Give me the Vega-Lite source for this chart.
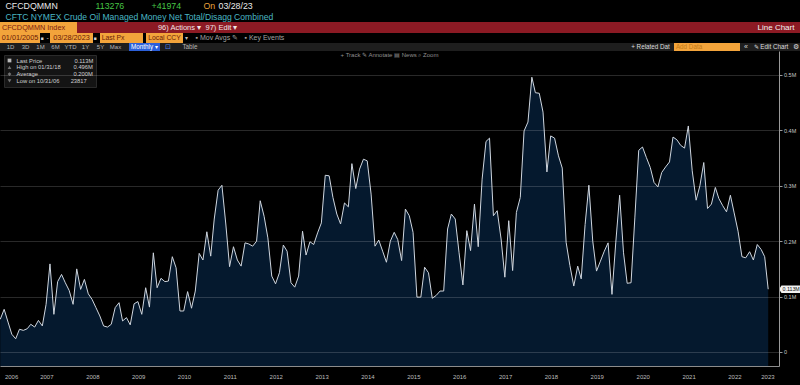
{
  "$schema": "https://vega.github.io/schema/vega-lite/v6.json",
  "background": "#000000",
  "padding": 0,
  "autosize": {"type": "pad"},
  "spacing": 0,
  "bounds": "full",
  "resolve": {"legend": {"color": "independent", "shape": "independent"}},
  "config": {
    "view": {"stroke": null},
    "concat": {"spacing": 0},
    "font": "Liberation Sans",
    "text": {"font": "Liberation Sans"}
  },
  "datasets": {
    "cot": [
      {"d":"2006-06-30","v":0.059},{"d":"2006-07-31","v":0.077},{"d":"2006-08-31","v":0.054},{"d":"2006-09-30","v":0.032},{"d":"2006-10-31","v":0.023817},{"d":"2006-11-30","v":0.041},{"d":"2006-12-31","v":0.039},
      {"d":"2007-01-31","v":0.042},{"d":"2007-02-28","v":0.050},{"d":"2007-03-31","v":0.045},{"d":"2007-04-30","v":0.057},{"d":"2007-05-31","v":0.047},{"d":"2007-06-30","v":0.086},{"d":"2007-07-31","v":0.159},{"d":"2007-08-31","v":0.068},{"d":"2007-09-30","v":0.127},{"d":"2007-10-31","v":0.140},{"d":"2007-11-30","v":0.125},{"d":"2007-12-31","v":0.111},
      {"d":"2008-01-31","v":0.086},{"d":"2008-02-29","v":0.150},{"d":"2008-03-31","v":0.113},{"d":"2008-04-30","v":0.131},{"d":"2008-05-31","v":0.105},{"d":"2008-06-30","v":0.095},{"d":"2008-07-31","v":0.080},{"d":"2008-08-31","v":0.065},{"d":"2008-09-30","v":0.047},{"d":"2008-10-31","v":0.045},{"d":"2008-11-30","v":0.050},{"d":"2008-12-31","v":0.080},
      {"d":"2009-01-31","v":0.089},{"d":"2009-02-28","v":0.056},{"d":"2009-03-31","v":0.062},{"d":"2009-04-30","v":0.049},{"d":"2009-05-31","v":0.087},{"d":"2009-06-30","v":0.091},{"d":"2009-07-31","v":0.068},{"d":"2009-08-31","v":0.116},{"d":"2009-09-30","v":0.081},{"d":"2009-10-31","v":0.179},{"d":"2009-11-30","v":0.116},{"d":"2009-12-31","v":0.133},
      {"d":"2010-01-31","v":0.127},{"d":"2010-02-28","v":0.128},{"d":"2010-03-31","v":0.172},{"d":"2010-04-30","v":0.152},{"d":"2010-05-31","v":0.074},{"d":"2010-06-30","v":0.074},{"d":"2010-07-31","v":0.109},{"d":"2010-08-31","v":0.079},{"d":"2010-09-30","v":0.110},{"d":"2010-10-31","v":0.178},{"d":"2010-11-30","v":0.166},{"d":"2010-12-31","v":0.217},
      {"d":"2011-01-31","v":0.173},{"d":"2011-02-28","v":0.240},{"d":"2011-03-31","v":0.292},{"d":"2011-04-30","v":0.301},{"d":"2011-05-31","v":0.231},{"d":"2011-06-30","v":0.154},{"d":"2011-07-31","v":0.190},{"d":"2011-08-31","v":0.166},{"d":"2011-09-30","v":0.155},{"d":"2011-10-31","v":0.197},{"d":"2011-11-30","v":0.195},{"d":"2011-12-31","v":0.191},
      {"d":"2012-01-31","v":0.200},{"d":"2012-02-29","v":0.273},{"d":"2012-03-31","v":0.245},{"d":"2012-04-30","v":0.206},{"d":"2012-05-31","v":0.137},{"d":"2012-06-30","v":0.123},{"d":"2012-07-31","v":0.143},{"d":"2012-08-31","v":0.193},{"d":"2012-09-30","v":0.182},{"d":"2012-10-31","v":0.125},{"d":"2012-11-30","v":0.117},{"d":"2012-12-31","v":0.137},
      {"d":"2013-01-31","v":0.218},{"d":"2013-02-28","v":0.175},{"d":"2013-03-31","v":0.199},{"d":"2013-04-30","v":0.194},{"d":"2013-05-31","v":0.215},{"d":"2013-06-30","v":0.233},{"d":"2013-07-31","v":0.319},{"d":"2013-08-31","v":0.318},{"d":"2013-09-30","v":0.279},{"d":"2013-10-31","v":0.249},{"d":"2013-11-30","v":0.231},{"d":"2013-12-31","v":0.269},
      {"d":"2014-01-31","v":0.262},{"d":"2014-02-28","v":0.340},{"d":"2014-03-31","v":0.295},{"d":"2014-04-30","v":0.330},{"d":"2014-05-31","v":0.348},{"d":"2014-06-30","v":0.345},{"d":"2014-07-31","v":0.285},{"d":"2014-08-31","v":0.191},{"d":"2014-09-30","v":0.202},{"d":"2014-10-31","v":0.182},{"d":"2014-11-30","v":0.162},{"d":"2014-12-31","v":0.200},
      {"d":"2015-01-31","v":0.216},{"d":"2015-02-28","v":0.203},{"d":"2015-03-31","v":0.165},{"d":"2015-04-30","v":0.258},{"d":"2015-05-31","v":0.246},{"d":"2015-06-30","v":0.216},{"d":"2015-07-31","v":0.099},{"d":"2015-08-31","v":0.099},{"d":"2015-09-30","v":0.153},{"d":"2015-10-31","v":0.143},{"d":"2015-11-30","v":0.097},{"d":"2015-12-31","v":0.102},
      {"d":"2016-01-31","v":0.110},{"d":"2016-02-29","v":0.110},{"d":"2016-03-31","v":0.222},{"d":"2016-04-30","v":0.249},{"d":"2016-05-31","v":0.240},{"d":"2016-06-30","v":0.180},{"d":"2016-07-31","v":0.121},{"d":"2016-08-31","v":0.219},{"d":"2016-09-30","v":0.183},{"d":"2016-10-31","v":0.267},{"d":"2016-11-30","v":0.190},{"d":"2016-12-31","v":0.312},
      {"d":"2017-01-31","v":0.380},{"d":"2017-02-28","v":0.386},{"d":"2017-03-31","v":0.246},{"d":"2017-04-30","v":0.255},{"d":"2017-05-31","v":0.204},{"d":"2017-06-30","v":0.135},{"d":"2017-07-31","v":0.237},{"d":"2017-08-31","v":0.147},{"d":"2017-09-30","v":0.252},{"d":"2017-10-31","v":0.279},{"d":"2017-11-30","v":0.399},{"d":"2017-12-31","v":0.415},
      {"d":"2018-01-31","v":0.496},{"d":"2018-02-28","v":0.468},{"d":"2018-03-31","v":0.467},{"d":"2018-04-30","v":0.433},{"d":"2018-05-31","v":0.325},{"d":"2018-06-30","v":0.390},{"d":"2018-07-31","v":0.386},{"d":"2018-08-31","v":0.354},{"d":"2018-09-30","v":0.332},{"d":"2018-10-31","v":0.198},{"d":"2018-11-30","v":0.156},{"d":"2018-12-31","v":0.119},
      {"d":"2019-01-31","v":0.155},{"d":"2019-02-28","v":0.132},{"d":"2019-03-31","v":0.230},{"d":"2019-04-30","v":0.301},{"d":"2019-05-31","v":0.200},{"d":"2019-06-30","v":0.146},{"d":"2019-07-31","v":0.164},{"d":"2019-08-31","v":0.182},{"d":"2019-09-30","v":0.197},{"d":"2019-10-31","v":0.104},{"d":"2019-11-30","v":0.197},{"d":"2019-12-31","v":0.283},
      {"d":"2020-01-31","v":0.179},{"d":"2020-02-29","v":0.124},{"d":"2020-03-31","v":0.125},{"d":"2020-04-30","v":0.242},{"d":"2020-05-31","v":0.364},{"d":"2020-06-30","v":0.370},{"d":"2020-07-31","v":0.351},{"d":"2020-08-31","v":0.333},{"d":"2020-09-30","v":0.306},{"d":"2020-10-31","v":0.298},{"d":"2020-11-30","v":0.324},{"d":"2020-12-31","v":0.334},
      {"d":"2021-01-31","v":0.343},{"d":"2021-02-28","v":0.388},{"d":"2021-03-31","v":0.383},{"d":"2021-04-30","v":0.373},{"d":"2021-05-31","v":0.368},{"d":"2021-06-30","v":0.408},{"d":"2021-07-31","v":0.327},{"d":"2021-08-31","v":0.274},{"d":"2021-09-30","v":0.300},{"d":"2021-10-31","v":0.342},{"d":"2021-11-30","v":0.259},{"d":"2021-12-31","v":0.267},
      {"d":"2022-01-31","v":0.297},{"d":"2022-02-28","v":0.277},{"d":"2022-03-31","v":0.264},{"d":"2022-04-30","v":0.253},{"d":"2022-05-31","v":0.283},{"d":"2022-06-30","v":0.251},{"d":"2022-07-31","v":0.218},{"d":"2022-08-31","v":0.172},{"d":"2022-09-30","v":0.170},{"d":"2022-10-31","v":0.181},{"d":"2022-11-30","v":0.166},{"d":"2022-12-31","v":0.194},
      {"d":"2023-01-31","v":0.185},{"d":"2023-02-28","v":0.172},{"d":"2023-03-28","v":0.113276}
    ],
    "stats": [
      {"entry": "Last Price\u00a0\u00a0\u00a0\u00a0\u00a0\u00a0\u00a0\u00a0\u00a0\u00a0\u00a0\u00a0\u00a0\u00a0\u00a0\u00a0\u00a0\u00a0\u00a0\u00a00.113M"},
      {"entry": "High on 01/31/18\u00a0\u00a0\u00a0\u00a0\u00a0\u00a0\u00a0\u00a00.496M"},
      {"entry": "Average\u00a0\u00a0\u00a0\u00a0\u00a0\u00a0\u00a0\u00a0\u00a0\u00a0\u00a0\u00a0\u00a0\u00a0\u00a0\u00a0\u00a0\u00a0\u00a0\u00a0\u00a0\u00a00.200M"},
      {"entry": "Low on 10/31/06\u00a0\u00a0\u00a0\u00a0\u00a0\u00a0\u00a023817"}
    ]
  },
  "vconcat": [
    {
      "spacing": 0, "bounds": "flush",
      "hconcat": [
        {"width": 5, "height": 12, "data": {"values": []}, "mark": "text"},
        {"width": 1, "height": 12, "data": {"values": [{"t": "CFCDQMMN"}]}, "mark": {"type": "text", "align": "left", "baseline": "middle", "fontSize": 8.8, "color": "#e8e8e8"}, "encoding": {"text": {"field": "t"}}},
        {"width": 89, "height": 12, "data": {"values": []}, "mark": "text"},
        {"width": 1, "height": 12, "data": {"values": [{"t": "113276"}]}, "mark": {"type": "text", "align": "left", "baseline": "middle", "fontSize": 8.8, "color": "#46c646"}, "encoding": {"text": {"field": "t"}}},
        {"width": 55, "height": 12, "data": {"values": []}, "mark": "text"},
        {"width": 1, "height": 12, "data": {"values": [{"t": "+41974"}]}, "mark": {"type": "text", "align": "left", "baseline": "middle", "fontSize": 8.8, "color": "#46c646"}, "encoding": {"text": {"field": "t"}}},
        {"width": 51, "height": 12, "data": {"values": []}, "mark": "text"},
        {"width": 1, "height": 12, "data": {"values": [{"t": "On"}]}, "mark": {"type": "text", "align": "left", "baseline": "middle", "fontSize": 8.8, "color": "#e9a23b"}, "encoding": {"text": {"field": "t"}}},
        {"width": 14, "height": 12, "data": {"values": []}, "mark": "text"},
        {"width": 1, "height": 12, "data": {"values": [{"t": "03/28/23"}]}, "mark": {"type": "text", "align": "left", "baseline": "middle", "fontSize": 8.8, "color": "#e8e8e8"}, "encoding": {"text": {"field": "t"}}},
        {"width": 581, "height": 12, "data": {"values": []}, "mark": "text"}
      ]
    },
    {
      "spacing": 0, "bounds": "flush",
      "hconcat": [
        {"width": 5, "height": 9, "data": {"values": []}, "mark": "text"},
        {"width": 1, "height": 9, "data": {"values": [{"t": "CFTC NYMEX Crude Oil Managed Money Net Total/Disagg Combined"}]}, "mark": {"type": "text", "align": "left", "baseline": "middle", "fontSize": 8.6, "color": "#4ab6c3"}, "encoding": {"text": {"field": "t"}}},
        {"width": 794, "height": 9, "data": {"values": []}, "mark": "text"}
      ]
    },
    {
      "spacing": 0, "bounds": "flush",
      "hconcat": [
        {"width": 67, "height": 11, "view": {"fill": "#f3a43b"}, "data": {"values": [{"t": "CFCDQMMN Index"}]}, "mark": {"type": "text", "baseline": "middle", "fontSize": 7.3, "color": "#7b1a10"}, "encoding": {"text": {"field": "t"}}},
        {"width": 10, "height": 11, "view": {"fill": "#f3a43b"}, "data": {"values": []}, "mark": "text"},
        {"width": 80, "height": 11, "view": {"fill": "#8c1a24"}, "data": {"values": []}, "mark": "text"},
        {"width": 45, "height": 11, "view": {"fill": "#8c1a24"}, "data": {"values": [{"t": "96) Actions \u25be"}]}, "mark": {"type": "text", "baseline": "middle", "fontSize": 7.5, "color": "#f2e4e4"}, "encoding": {"text": {"field": "t"}}},
        {"width": 3, "height": 11, "view": {"fill": "#8c1a24"}, "data": {"values": []}, "mark": "text"},
        {"width": 33, "height": 11, "view": {"fill": "#8c1a24"}, "data": {"values": [{"t": "97) Edit \u25be"}]}, "mark": {"type": "text", "baseline": "middle", "fontSize": 7.5, "color": "#f2e4e4"}, "encoding": {"text": {"field": "t"}}},
        {"width": 517, "height": 11, "view": {"fill": "#8c1a24"}, "data": {"values": []}, "mark": "text"},
        {"width": 42, "height": 11, "view": {"fill": "#8c1a24"}, "data": {"values": [{"t": "Line Chart"}]}, "mark": {"type": "text", "baseline": "middle", "fontSize": 8, "color": "#f2f2f2"}, "encoding": {"text": {"field": "t"}}},
        {"width": 3, "height": 11, "view": {"fill": "#8c1a24"}, "data": {"values": []}, "mark": "text"}
      ]
    },
    {
      "spacing": 0, "bounds": "flush",
      "hconcat": [
        {"width": 40, "height": 10, "view": {"fill": "#f3a43b"}, "data": {"values": [{"t": "01/01/2005"}]}, "mark": {"type": "text", "baseline": "middle", "fontSize": 7.3, "color": "#6a1a08"}, "encoding": {"text": {"field": "t"}}},
        {"width": 4, "height": 10, "data": {"values": [{"t": "\u25a0"}]}, "mark": {"type": "text", "baseline": "middle", "fontSize": 5, "color": "#cfcfcf"}, "encoding": {"text": {"field": "t"}}},
        {"width": 2, "height": 10, "data": {"values": []}, "mark": "text"},
        {"width": 1, "height": 10, "data": {"values": [{"t": "-"}]}, "mark": {"type": "text", "align": "left", "baseline": "middle", "fontSize": 7, "color": "#bdbdbd"}, "encoding": {"text": {"field": "t"}}},
        {"width": 3, "height": 10, "data": {"values": []}, "mark": "text"},
        {"width": 43, "height": 10, "view": {"fill": "#f3a43b"}, "data": {"values": [{"t": "03/28/2023"}]}, "mark": {"type": "text", "baseline": "middle", "fontSize": 7.3, "color": "#6a1a08"}, "encoding": {"text": {"field": "t"}}},
        {"width": 4, "height": 10, "data": {"values": [{"t": "\u25a0"}]}, "mark": {"type": "text", "baseline": "middle", "fontSize": 5, "color": "#cfcfcf"}, "encoding": {"text": {"field": "t"}}},
        {"width": 3, "height": 10, "data": {"values": []}, "mark": "text"},
        {"width": 26, "height": 10, "view": {"fill": "#f3a43b"}, "data": {"values": [{"t": "Last Px"}]}, "mark": {"type": "text", "baseline": "middle", "fontSize": 6.8, "color": "#6a1a08"}, "encoding": {"text": {"field": "t"}}},
        {"width": 17, "height": 10, "view": {"fill": "#f3a43b"}, "data": {"values": []}, "mark": "text"},
        {"width": 3, "height": 10, "data": {"values": []}, "mark": "text"},
        {"width": 37, "height": 10, "view": {"fill": "#f3a43b"}, "data": {"values": [{"t": "Local CCY"}]}, "mark": {"type": "text", "baseline": "middle", "fontSize": 6.8, "color": "#6a1a08"}, "encoding": {"text": {"field": "t"}}},
        {"width": 7, "height": 10, "data": {"values": [{"t": "\u25be"}]}, "mark": {"type": "text", "baseline": "middle", "fontSize": 6, "color": "#bdbdbd"}, "encoding": {"text": {"field": "t"}}},
        {"width": 5, "height": 10, "data": {"values": []}, "mark": "text"},
        {"width": 1, "height": 10, "data": {"values": [{"t": "\u25aa Mov Avgs \u270e"}]}, "mark": {"type": "text", "align": "left", "baseline": "middle", "fontSize": 7, "color": "#a0a0a0"}, "encoding": {"text": {"field": "t"}}},
        {"width": 48, "height": 10, "data": {"values": []}, "mark": "text"},
        {"width": 1, "height": 10, "data": {"values": [{"t": "\u25aa Key Events"}]}, "mark": {"type": "text", "align": "left", "baseline": "middle", "fontSize": 7, "color": "#a0a0a0"}, "encoding": {"text": {"field": "t"}}},
        {"width": 555, "height": 10, "data": {"values": []}, "mark": "text"}
      ]
    },
    {
      "spacing": 0, "bounds": "flush",
      "hconcat": [
        {"width": 3, "height": 8, "view": {"fill": "#1e1e1e"}, "data": {"values": []}, "mark": "text"},
        {"width": 15, "height": 8, "view": {"fill": "#1e1e1e"}, "data": {"values": [{"t": "1D"}]}, "mark": {"type": "text", "baseline": "middle", "fontSize": 6, "color": "#b5b5b5"}, "encoding": {"text": {"field": "t"}}},
        {"width": 15, "height": 8, "view": {"fill": "#1e1e1e"}, "data": {"values": [{"t": "3D"}]}, "mark": {"type": "text", "baseline": "middle", "fontSize": 6, "color": "#b5b5b5"}, "encoding": {"text": {"field": "t"}}},
        {"width": 15, "height": 8, "view": {"fill": "#1e1e1e"}, "data": {"values": [{"t": "1M"}]}, "mark": {"type": "text", "baseline": "middle", "fontSize": 6, "color": "#b5b5b5"}, "encoding": {"text": {"field": "t"}}},
        {"width": 15, "height": 8, "view": {"fill": "#1e1e1e"}, "data": {"values": [{"t": "6M"}]}, "mark": {"type": "text", "baseline": "middle", "fontSize": 6, "color": "#b5b5b5"}, "encoding": {"text": {"field": "t"}}},
        {"width": 15, "height": 8, "view": {"fill": "#1e1e1e"}, "data": {"values": [{"t": "YTD"}]}, "mark": {"type": "text", "baseline": "middle", "fontSize": 6, "color": "#b5b5b5"}, "encoding": {"text": {"field": "t"}}},
        {"width": 15, "height": 8, "view": {"fill": "#1e1e1e"}, "data": {"values": [{"t": "1Y"}]}, "mark": {"type": "text", "baseline": "middle", "fontSize": 6, "color": "#b5b5b5"}, "encoding": {"text": {"field": "t"}}},
        {"width": 15, "height": 8, "view": {"fill": "#1e1e1e"}, "data": {"values": [{"t": "5Y"}]}, "mark": {"type": "text", "baseline": "middle", "fontSize": 6, "color": "#b5b5b5"}, "encoding": {"text": {"field": "t"}}},
        {"width": 15, "height": 8, "view": {"fill": "#1e1e1e"}, "data": {"values": [{"t": "Max"}]}, "mark": {"type": "text", "baseline": "middle", "fontSize": 6, "color": "#b5b5b5"}, "encoding": {"text": {"field": "t"}}},
        {"width": 6, "height": 8, "view": {"fill": "#1e1e1e"}, "data": {"values": []}, "mark": "text"},
        {"width": 31, "height": 8, "view": {"fill": "#2b5fd9"}, "data": {"values": [{"t": "Monthly \u25be"}]}, "mark": {"type": "text", "baseline": "middle", "fontSize": 6.3, "color": "#ffffff"}, "encoding": {"text": {"field": "t"}}},
        {"width": 3, "height": 8, "view": {"fill": "#1e1e1e"}, "data": {"values": []}, "mark": "text"},
        {"width": 10, "height": 8, "view": {"fill": "#1e1e1e"}, "data": {"values": [{"t": "\u22a1"}]}, "mark": {"type": "text", "baseline": "middle", "fontSize": 7, "color": "#4f86e8"}, "encoding": {"text": {"field": "t"}}},
        {"width": 6, "height": 8, "view": {"fill": "#1e1e1e"}, "data": {"values": []}, "mark": "text"},
        {"width": 22, "height": 8, "view": {"fill": "#1e1e1e"}, "data": {"values": [{"t": "Table"}]}, "mark": {"type": "text", "baseline": "middle", "fontSize": 6.3, "color": "#b5b5b5"}, "encoding": {"text": {"field": "t"}}},
        {"width": 429, "height": 8, "view": {"fill": "#1e1e1e"}, "data": {"values": []}, "mark": "text"},
        {"width": 41, "height": 8, "view": {"fill": "#1e1e1e"}, "data": {"values": [{"t": "+ Related Dat"}]}, "mark": {"type": "text", "baseline": "middle", "fontSize": 6.3, "color": "#dcdcdc"}, "encoding": {"text": {"field": "t"}}},
        {"width": 3, "height": 8, "view": {"fill": "#1e1e1e"}, "data": {"values": []}, "mark": "text"},
        {"width": 30, "height": 8, "view": {"fill": "#f3a43b"}, "data": {"values": [{"t": "Add Data"}]}, "mark": {"type": "text", "baseline": "middle", "fontSize": 6.3, "color": "#c27a18"}, "encoding": {"text": {"field": "t"}}},
        {"width": 36, "height": 8, "view": {"fill": "#f3a43b"}, "data": {"values": []}, "mark": "text"},
        {"width": 2, "height": 8, "view": {"fill": "#1e1e1e"}, "data": {"values": []}, "mark": "text"},
        {"width": 8, "height": 8, "view": {"fill": "#1e1e1e"}, "data": {"values": [{"t": "\u00ab"}]}, "mark": {"type": "text", "baseline": "middle", "fontSize": 7, "color": "#dcdcdc"}, "encoding": {"text": {"field": "t"}}},
        {"width": 42, "height": 8, "view": {"fill": "#1e1e1e"}, "data": {"values": [{"t": "\u270e Edit Chart"}]}, "mark": {"type": "text", "baseline": "middle", "fontSize": 6.3, "color": "#dcdcdc"}, "encoding": {"text": {"field": "t"}}},
        {"width": 8, "height": 8, "view": {"fill": "#1e1e1e"}, "data": {"values": [{"t": "\u2699"}]}, "mark": {"type": "text", "baseline": "middle", "fontSize": 7, "color": "#dcdcdc"}, "encoding": {"text": {"field": "t"}}}
      ]
    },
    {
      "width": 779,
      "height": 315,
      "data": {"name": "cot"},
      "title": {"text": "+ Track    \u270e Annotate    \u25a4 News    \u2315 Zoom", "fontSize": 6, "fontWeight": "normal", "color": "#8f8f8f", "anchor": "middle", "offset": -10, "baseline": "middle", "font": "Liberation Sans"},
      "layer": [
        {
          "mark": {"type": "area", "color": "#072342", "line": {"color": "#cfd6df", "strokeWidth": 1}, "clip": true},
          "encoding": {
            "x": {
              "field": "d", "type": "temporal",
              "scale": {"domain": [{"year": 2006, "month": 6, "date": 28, "utc": true}, {"year": 2023, "month": 6, "date": 22, "utc": true}], "nice": false},
              "axis": {
                "title": null,
                "zindex": 1,
                "values": [
                  {"year": 2007, "month": 1, "date": 1, "utc": true},{"year": 2008, "month": 1, "date": 1, "utc": true},{"year": 2009, "month": 1, "date": 1, "utc": true},{"year": 2010, "month": 1, "date": 1, "utc": true},{"year": 2011, "month": 1, "date": 1, "utc": true},{"year": 2012, "month": 1, "date": 1, "utc": true},{"year": 2013, "month": 1, "date": 1, "utc": true},{"year": 2014, "month": 1, "date": 1, "utc": true},{"year": 2015, "month": 1, "date": 1, "utc": true},{"year": 2016, "month": 1, "date": 1, "utc": true},{"year": 2017, "month": 1, "date": 1, "utc": true},{"year": 2018, "month": 1, "date": 1, "utc": true},{"year": 2019, "month": 1, "date": 1, "utc": true},{"year": 2020, "month": 1, "date": 1, "utc": true},{"year": 2021, "month": 1, "date": 1, "utc": true},{"year": 2022, "month": 1, "date": 1, "utc": true},{"year": 2023, "month": 1, "date": 1, "utc": true},
                  {"year": 2006, "month": 9, "date": 24, "utc": true},{"year": 2007, "month": 7, "date": 2, "utc": true},{"year": 2008, "month": 7, "date": 2, "utc": true},{"year": 2009, "month": 7, "date": 2, "utc": true},{"year": 2010, "month": 7, "date": 2, "utc": true},{"year": 2011, "month": 7, "date": 2, "utc": true},{"year": 2012, "month": 7, "date": 2, "utc": true},{"year": 2013, "month": 7, "date": 2, "utc": true},{"year": 2014, "month": 7, "date": 2, "utc": true},{"year": 2015, "month": 7, "date": 2, "utc": true},{"year": 2016, "month": 7, "date": 2, "utc": true},{"year": 2017, "month": 7, "date": 2, "utc": true},{"year": 2018, "month": 7, "date": 2, "utc": true},{"year": 2019, "month": 7, "date": 2, "utc": true},{"year": 2020, "month": 7, "date": 2, "utc": true},{"year": 2021, "month": 7, "date": 2, "utc": true},{"year": 2022, "month": 7, "date": 2, "utc": true},{"year": 2023, "month": 3, "date": 22, "utc": true}
                ],
                "labelExpr": "utcmonth(datum.value) == 0 && utcdate(datum.value) == 1 ? '' : utcFormat(datum.value, '%Y')",
                "grid": true,
                "gridColor": "#ffffff",
                "gridOpacity": {"condition": {"test": "utcmonth(datum.value) == 0 && utcdate(datum.value) == 1", "value": 0.16}, "value": 0},
                "ticks": true,
                "tickSize": 20,
                "tickColor": "#3a3a3a",
                "tickOpacity": {"condition": {"test": "utcmonth(datum.value) == 0 && utcdate(datum.value) == 1", "value": 1}, "value": 0},
                "domain": true,
                "domainColor": "#8c8c8c",
                "labelPadding": -13,
                "labelFontSize": 6,
                "labelColor": "#bdbdbd",
                "labelFlush": false,
                "labelOverlap": false,
                "labelAlign": "center",
                "labelBaseline": "top"
              }
            },
            "y": {
              "field": "v", "type": "quantitative",
              "scale": {"domain": [-0.0253, 0.5433], "nice": false, "zero": false},
              "axis": {
                "title": null,
                "zindex": 1,
                "orient": "right",
                "values": [0, 0.1, 0.2, 0.3, 0.4, 0.5],
                "labelExpr": "datum.value == 0 ? '0' : format(datum.value, '.1f') + 'M'",
                "grid": true,
                "gridColor": "#ffffff",
                "gridOpacity": 0.16,
                "domainColor": "#9a9a9a",
                "tickColor": "#9a9a9a",
                "tickSize": 3,
                "labelPadding": 1.5,
                "labelFontSize": 5.5,
                "labelColor": "#c8c8c8"
              }
            },
            "y2": {"datum": -0.0253}
          }
        },
        {
          "data": {"name": "stats"},
          "transform": [{"filter": "false"}],
          "mark": {"type": "point", "filled": true},
          "encoding": {
            "color": {
              "field": "entry", "type": "nominal",
              "scale": {"domain": [
                "Last Price\u00a0\u00a0\u00a0\u00a0\u00a0\u00a0\u00a0\u00a0\u00a0\u00a0\u00a0\u00a0\u00a0\u00a0\u00a0\u00a0\u00a0\u00a0\u00a0\u00a00.113M",
                "High on 01/31/18\u00a0\u00a0\u00a0\u00a0\u00a0\u00a0\u00a0\u00a00.496M",
                "Average\u00a0\u00a0\u00a0\u00a0\u00a0\u00a0\u00a0\u00a0\u00a0\u00a0\u00a0\u00a0\u00a0\u00a0\u00a0\u00a0\u00a0\u00a0\u00a0\u00a0\u00a0\u00a00.200M",
                "Low on 10/31/06\u00a0\u00a0\u00a0\u00a0\u00a0\u00a0\u00a023817"
              ], "range": ["#ffffff", "#9a9a9a", "#9a9a9a", "#9a9a9a"]},
              "legend": {"title": null, "orient": "top-left", "offset": 4, "padding": 2.5, "fillColor": "#141414", "strokeColor": "#2a2a2a", "labelFontSize": 5.8, "labelColor": "#cfcfcf", "labelFont": "Liberation Sans", "symbolSize": 14, "rowPadding": 0.8, "labelOffset": 4, "labelLimit": 300}
            },
            "shape": {
              "field": "entry", "type": "nominal",
              "scale": {"domain": [
                "Last Price\u00a0\u00a0\u00a0\u00a0\u00a0\u00a0\u00a0\u00a0\u00a0\u00a0\u00a0\u00a0\u00a0\u00a0\u00a0\u00a0\u00a0\u00a0\u00a0\u00a00.113M",
                "High on 01/31/18\u00a0\u00a0\u00a0\u00a0\u00a0\u00a0\u00a0\u00a00.496M",
                "Average\u00a0\u00a0\u00a0\u00a0\u00a0\u00a0\u00a0\u00a0\u00a0\u00a0\u00a0\u00a0\u00a0\u00a0\u00a0\u00a0\u00a0\u00a0\u00a0\u00a0\u00a0\u00a00.200M",
                "Low on 10/31/06\u00a0\u00a0\u00a0\u00a0\u00a0\u00a0\u00a023817"
              ], "range": ["square", "triangle-up", "diamond", "triangle-down"]},
              "legend": {"title": null, "orient": "top-left", "offset": 4, "padding": 2.5, "fillColor": "#141414", "strokeColor": "#2a2a2a", "labelFontSize": 5.8, "labelColor": "#cfcfcf", "labelFont": "Liberation Sans", "symbolSize": 14, "rowPadding": 0.8, "labelOffset": 4, "labelLimit": 300}
            }
          }
        },
        {
          "transform": [
            {"aggregate": [{"op": "argmax", "field": "d", "as": "last"}]},
            {"calculate": "format(datum.last.v, '.3f') + 'M'", "as": "lab"}
          ],
          "layer": [
            {
              "mark": {"type": "point", "shape": "M0,0L0.25,-0.38L2.1,-0.38L2.1,0.38L0.25,0.38Z", "size": 400, "filled": true, "color": "#f2f2f2", "opacity": 1},
              "encoding": {
                "x": {"datum": {"year": 2023, "month": 6, "date": 22, "utc": true}, "type": "temporal"},
                "y": {"field": "last.v", "type": "quantitative"}
              }
            },
            {
              "mark": {"type": "text", "align": "left", "baseline": "middle", "dx": 3.5, "fontSize": 5.3, "color": "#111111"},
              "encoding": {
                "x": {"datum": {"year": 2023, "month": 6, "date": 22, "utc": true}, "type": "temporal"},
                "y": {"field": "last.v", "type": "quantitative"},
                "text": {"field": "lab"}
              }
            }
          ]
        }
      ]
    }
  ]
}
